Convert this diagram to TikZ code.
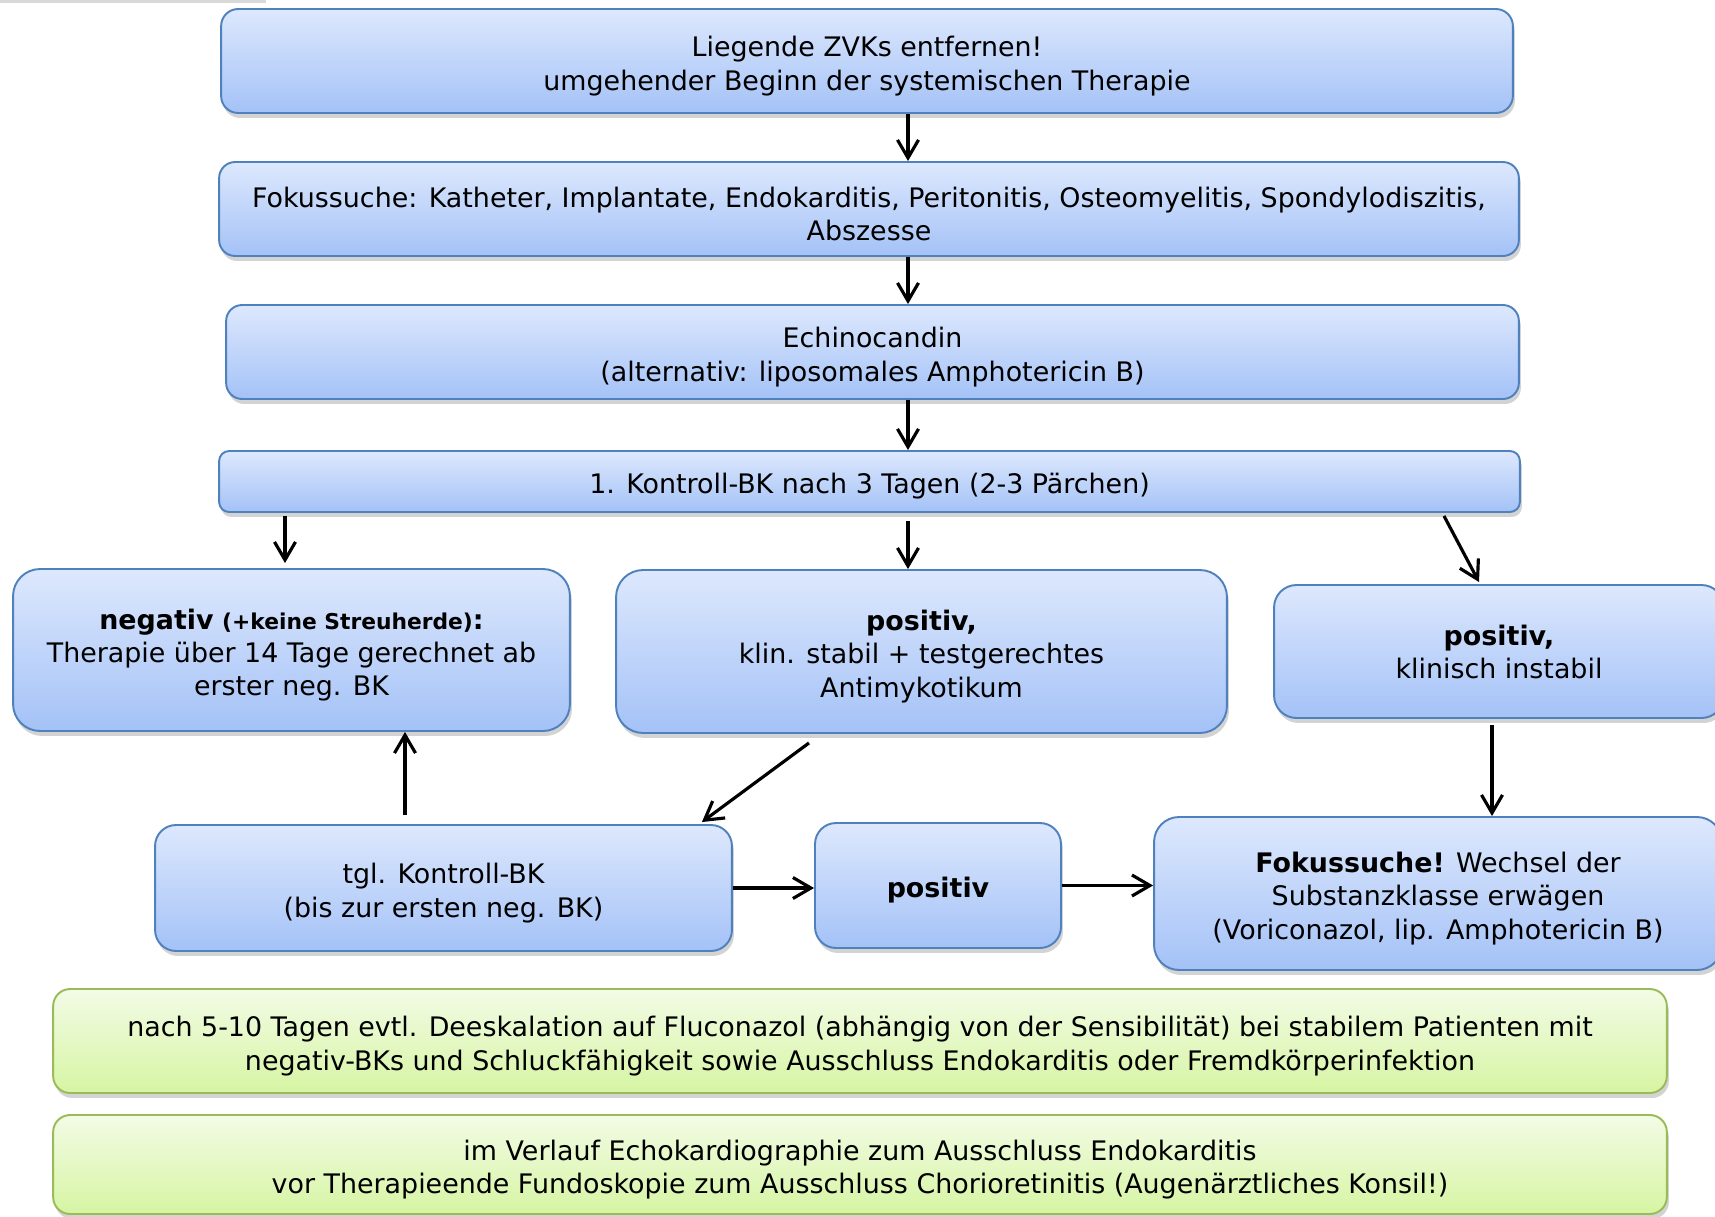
\documentclass[tikz,border=0pt]{standalone}
\usepackage{fontspec}
\setmainfont{DejaVu Sans}
\usetikzlibrary{arrows.meta,shadows}

\definecolor{boxtop}{HTML}{DDE8FD}
\definecolor{boxbot}{HTML}{A4C2F7}
\definecolor{boxline}{HTML}{4F81BD}
\definecolor{notetop}{HTML}{F3FBE6}
\definecolor{notebot}{HTML}{D6F5A3}
\definecolor{noteline}{HTML}{9BBB59}

\newcommand{\topstrut}{\rule{0pt}{17.4pt}}

\tikzset{
  box/.style={draw=boxline, line width=1.1pt, top color=boxtop, bottom color=boxbot,
    rounded corners=0.4cm, align=center, inner sep=0pt,
    font=\fontsize{15.3}{18.8}\selectfont,
    drop shadow={shadow xshift=0.04cm, shadow yshift=-0.1cm, opacity=0.35}},
  note/.style={box, draw=noteline, top color=notetop, bottom color=notebot},
  arr/.style={-{Straight Barb[length=0.36cm,width=0.42cm]}, line width=1.8pt},
}

\begin{document}
\begin{tikzpicture}[x=0.02cm, y=-0.02cm]
        \useasboundingbox (0,0) rectangle (1715,1217);
        \fill[gray!30] (0,0) rectangle (266,3);

        % Main chain
        \node[box, minimum width=25.84cm, minimum height=2.08cm, rounded corners=0.34cm] (top) at (867,61)
            {\topstrut Liegende ZVKs entfernen!\\umgehender Beginn der systemischen Therapie};
        \node[box, minimum width=26cm, minimum height=1.88cm, rounded corners=0.32cm] (fokus) at (869,209)
            {\topstrut Fokussuche: Katheter, Implantate, Endokarditis, Peritonitis, Osteomyelitis, Spondylodiszitis,\\Abszesse};
        \node[box, minimum width=25.86cm, minimum height=1.88cm, rounded corners=0.32cm] (echino) at (872.5,352)
            {\topstrut Echinocandin\\(alternativ: liposomales Amphotericin B)};
        \node[box, minimum width=26.02cm, minimum height=1.22cm, rounded corners=0.2cm] (kontroll) at (869.5,481.5)
            {\topstrut 1. Kontroll-BK nach 3 Tagen (2-3 Pärchen)};

        % Results
        \node[box, minimum width=11.14cm, minimum height=3.24cm, rounded corners=0.54cm] (negativ) at (291.5,650)
            {\topstrut\textbf{negativ} {\fontsize{12.4}{18.8}\selectfont\bfseries (+keine Streuherde)}\textbf{:}\\Therapie über 14 Tage gerechnet ab\\erster neg. BK};
        \node[box, minimum width=12.22cm, minimum height=3.26cm, rounded corners=0.54cm] (posstab) at (921.5,651.5)
            {\topstrut\textbf{positiv,}\\klin. stabil + testgerechtes\\Antimykotikum};
        \node[box, minimum width=9cm, minimum height=2.66cm, rounded corners=0.45cm] (instabil) at (1499,651.5)
            {\textbf{positiv,}\\klinisch instabil};

        % Follow-up
        \node[box, minimum width=11.54cm, minimum height=2.52cm, rounded corners=0.42cm] (tgl) at (443.5,888)
            {\topstrut tgl. Kontroll-BK\\(bis zur ersten neg. BK)};
        \node[box, minimum width=4.92cm, minimum height=2.5cm, rounded corners=0.42cm] (pos) at (938,885.5)
            {\topstrut\textbf{positiv}};
        \node[box, minimum width=11.36cm, minimum height=3.06cm, rounded corners=0.5cm] (fokus2) at (1438,893.5)
            {\topstrut\textbf{Fokussuche!} Wechsel der\\Substanzklasse erwägen\\(Voriconazol, lip. Amphotericin B)};

        % Notes
        \node[note, minimum width=32.28cm, minimum height=2.08cm, rounded corners=0.34cm] (deesk) at (860,1041)
            {\topstrut nach 5-10 Tagen evtl. Deeskalation auf Fluconazol (abhängig von der Sensibilität) bei stabilem Patienten mit\\negativ-BKs und Schluckfähigkeit sowie Ausschluss Endokarditis oder Fremdkörperinfektion};
        \node[note, minimum width=32.28cm, minimum height=1.98cm, rounded corners=0.34cm] (echo) at (860,1164.5)
            {\topstrut im Verlauf Echokardiographie zum Ausschluss Endokarditis\\vor Therapieende Fundoskopie zum Ausschluss Chorioretinitis (Augenärztliches Konsil!)};

        % Arrows
        \coordinate (spine) at (908,0);
        \coordinate (lspine) at (285,0);
        \coordinate (tspine) at (405,0);
        \coordinate (rspine) at (1492,0);
        \draw[arr] (top.south -| spine) -- (fokus.north -| spine);
        \draw[arr] (fokus.south -| spine) -- (echino.north -| spine);
        \draw[arr] (echino.south -| spine) -- (kontroll.north -| spine);
        \draw[arr, shorten <=0.06cm, shorten >=0.1cm] (kontroll.south -| lspine) -- (negativ.north -| lspine);
        \draw[arr, shorten <=0.16cm] (kontroll.south -| spine) -- (posstab.north -| spine);
        \draw[arr] ([shift={(574.5,3)}]kontroll.south) -- ([shift={(-20,-2)}]instabil.north);
        \draw[arr] ([shift={(-112.5,9)}]posstab.south) -- ([shift={(-31,-2)}]tgl.north east);
        \draw[arr, shorten <=0.12cm] (instabil.south -| rspine) -- (fokus2.north -| rspine);
        \draw[arr, shorten <=0.18cm] (tgl.north -| tspine) -- (negativ.south -| tspine);
        \draw[arr] (tgl.east) -- (tgl.east -| pos.west);
        \draw[arr] (pos.east) -- (pos.east -| fokus2.west);
    \end{tikzpicture}
\end{document}
